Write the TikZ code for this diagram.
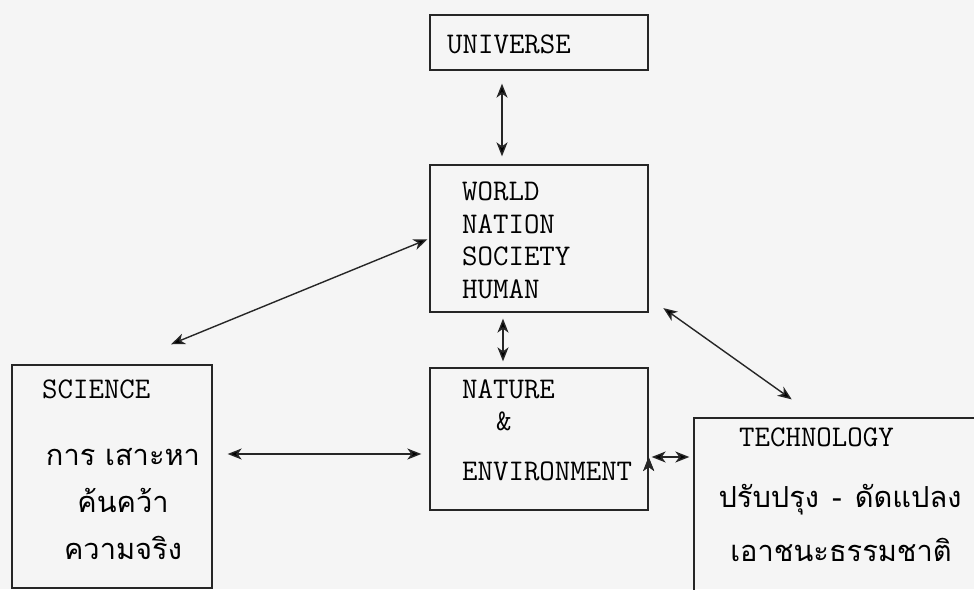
\documentclass[tikz,border=0pt]{standalone}
\usepackage{fontspec}
\newfontfamily\thaifont[Script=Thai]{Loma}
\usetikzlibrary{positioning,arrows.meta,calc}

\begin{document}
\begin{tikzpicture}[x=1pt,y=1pt]
    \tikzstyle{box}=[draw=black!85,line width=1.3pt,rectangle,inner sep=0]
    \tikzstyle{word}=[inner sep=0,anchor=west,font=\ttfamily\fontsize{30}{34}\selectfont]
    \tikzstyle{thai}=[inner sep=0,font=\thaifont\fontsize{29}{34}\selectfont]
    \tikzstyle{link}=[<->,>={Stealth[length=14pt,width=11pt,inset=4pt]},line width=1.4pt,draw=black!85]
    {
        \useasboundingbox (0,0) rectangle (974,-589);
        \clip (0,0) rectangle (974,-589);
        \fill[black!4] (0,0) rectangle (974,-589);

        \node[box,minimum width=218,minimum height=55] (universe) at (539,-42.5) {};
        \node[box,minimum width=218,minimum height=147] (world) at (539,-238.5) {};
        \node[box,minimum width=218,minimum height=142] (nature) at (539,-439) {};
        \node[box,minimum width=200,minimum height=223] (science) at (112,-476.5) {};
        \node[box,minimum width=320,minimum height=200] (tech) at (854,-518) {};

        \node[word] (universeText) at (447,-44) {UNIVERSE};

        \node[word] (worldText) at (462,-191) {WORLD};
        \node[word] (nationText) at (462,-224) {NATION};
        \node[word] (societyText) at (462,-256) {SOCIETY};
        \node[word] (humanText) at (462,-289) {HUMAN};

        \node[word] (natureText) at (462,-389) {NATURE};
        \node[word] (andText) at (496,-421) {\&};
        \node[word] (envText) at (462,-471) {ENVIRONMENT};

        \node[word] (scienceText) at (42,-389) {SCIENCE};
        \node[thai] (seekText) at (123,-457) {การ เสาะหา};
        \node[thai] (searchText) at (123,-500) {ค้นคว้า};
        \node[thai] (truthText) at (123,-548) {ความจริง};

        \node[word] (techText) at (739,-437) {TECHNOLOGY};
        \node[thai] (adaptText) at (840,-500) {ปรับปรุง\hspace{0.45em}-\hspace{0.45em}ดัดแปลง};
        \node[thai] (conquerText) at (841,-550) {เอาชนะธรรมชาติ};

        \path[link]
            ([xshift=-37pt]universe.south) edge[shorten <=13pt,shorten >=8pt] ([xshift=-37pt]world.north)
            ([xshift=-36pt]world.south) edge[shorten <=6pt,shorten >=6pt] ([xshift=-36pt]nature.north)
            (world.west) edge[shorten <=2pt,shorten >=53pt] ([xshift=10pt]science.north)
            ([yshift=15pt]world.south east) edge[shorten <=18pt,shorten >=31pt] ([xshift=-37pt]tech.north)
            ([yshift=22.5pt]science.east) edge[shorten <=15pt,shorten >=8pt] ([yshift=-15pt]nature.west)
            ([yshift=-18pt]nature.east) edge[shorten <=3pt,shorten >=4pt] ([yshift=61pt]tech.west);
    }
\end{tikzpicture}
\end{document}
